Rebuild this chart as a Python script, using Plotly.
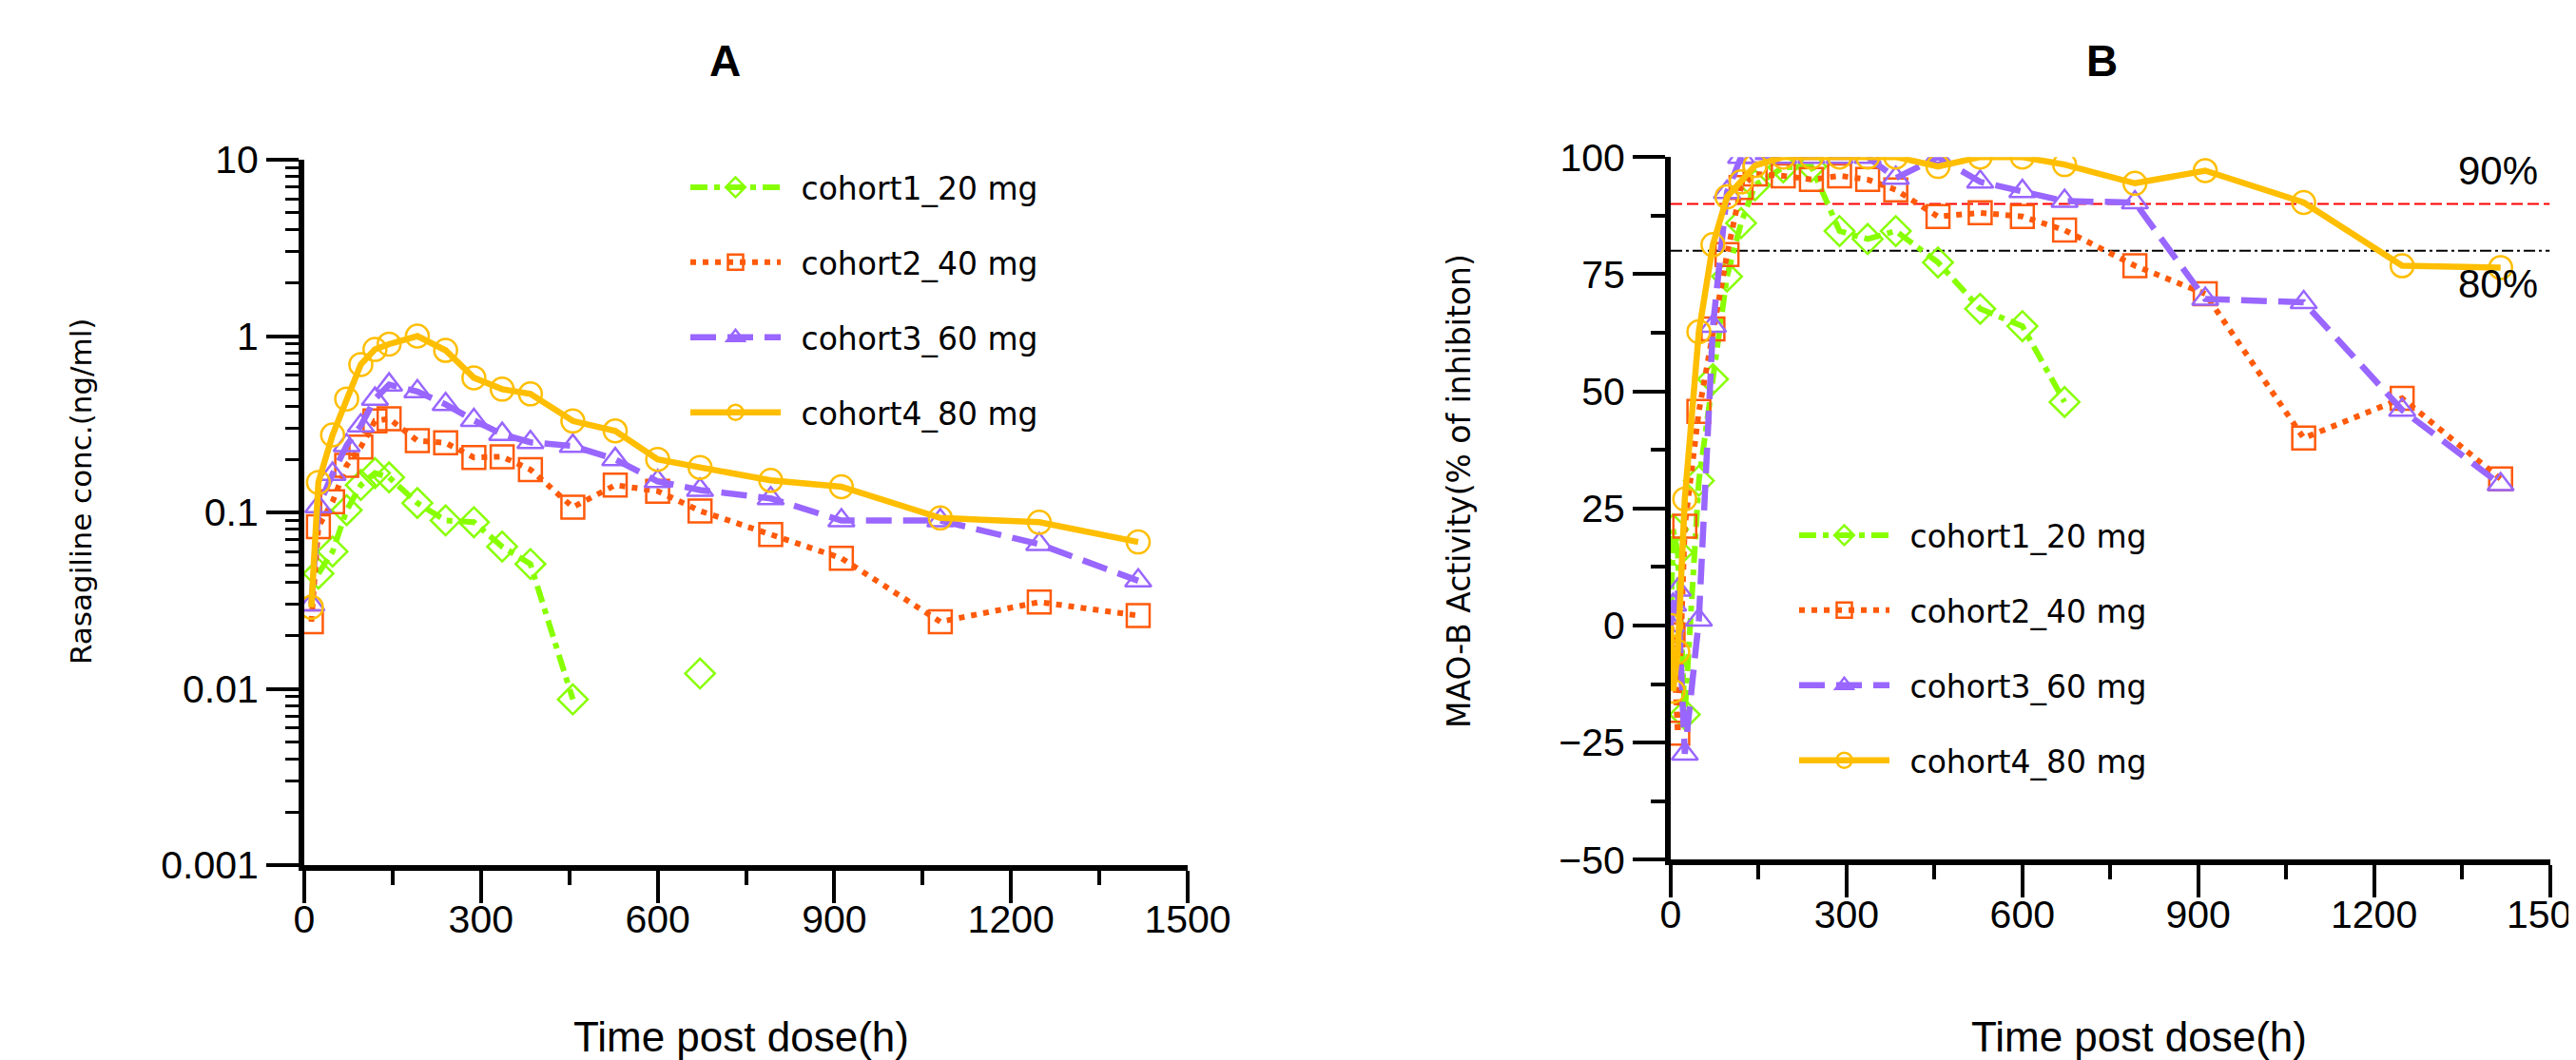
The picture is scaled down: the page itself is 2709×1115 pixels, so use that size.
import plotly.graph_objects as go

W, H = 2709, 1115
OFF = 8  # page body margin offset of the rendered figure

def px(x):
    return (x - OFF) / W

def py(y):
    return 1 - (y - OFF) / H

# ---------------- data ----------------
cohorts = ["cohort1_20 mg", "cohort2_40 mg", "cohort3_60 mg", "cohort4_80 mg"]

# Panel A: Rasagiline concentration (ng/ml)
times_pk = [12, 24, 48, 72, 96, 120, 144, 192, 240, 288, 336, 384, 456, 528,
            600, 672, 792, 912, 1080, 1248, 1416]
pk_c1 = [None, 0.045, 0.060, 0.103, 0.143, 0.167, 0.158, 0.113, 0.090, 0.088,
         0.064, 0.051, 0.0087, None, None, 0.0122, None, None, None, None, None]
pk_c2 = [0.024, 0.083, 0.115, 0.185, 0.235, 0.33, 0.34, 0.255, 0.248, 0.205,
         0.207, 0.175, 0.107, 0.143, 0.132, 0.102, 0.075, 0.055, 0.024, 0.031, 0.026]
pk_c3 = [0.030, 0.108, 0.165, 0.24, 0.31, 0.44, 0.53, 0.485, 0.41, 0.333,
         0.278, 0.25, 0.238, 0.20, 0.15, 0.134, 0.12, 0.09, 0.09, 0.066, 0.041]
pk_c4 = [0.029, 0.148, 0.275, 0.44, 0.69, 0.84, 0.90, 1.0, 0.83, 0.58,
         0.50, 0.47, 0.33, 0.29, 0.20, 0.18, 0.152, 0.14, 0.093, 0.088, 0.068]

# Panel B: MAO-B activity (% of inhibition)
times_pd = [0, 4, 12, 24, 48, 72, 96, 120, 144, 192, 240, 288, 336, 384, 456,
            528, 600, 672, 792, 912, 1080, 1248, 1416]
pd_c1 = [0, 20.5, 15.6, -19, 30.9, 52.6, 74.5, 85.9, 94, 97.8, 98, 84.2, 82.5,
         84.2, 77.5, 67.6, 63.9, 47.7, None, None, None, None, None]
pd_c2 = [0, -2, -23, 21.2, 45.7, 63.3, 79.2, 93.5, 96.4, 96, 95.2, 96, 95.2,
         93, 87.3, 88.1, 87.3, 84.4, 76.8, 70.8, 40, 48.5, 31.3]
pd_c3 = [0, 4.4, 7.6, -27.4, 1.2, 63.9, 92.5, 100, 100, 100, 100, 100, 100,
         95.5, 100, 94.7, 92.7, 90.6, 90.3, 69.7, 69, 46, 30.1]
pd_c4 = [0, -14, -5.6, 27, 62.7, 81.3, 91.5, 94.7, 98.2, 100, 100, 100, 100,
         100, 98, 100, 100, 98.4, 94.4, 97.1, 90.3, 76.8, 76.4]

ref_levels = [90, 80]
ref_labels = ["90%", "80%"]

x_ticks = [0, 300, 600, 900, 1200, 1500]
pk_ticks = [0.001, 0.01, 0.1, 1, 10]
pk_ticktext = ["0.001", "0.01", "0.1", "1", "10"]
pd_ticks = [-50, -25, 0, 25, 50, 75, 100]

# ---------------- styles ----------------
colors = ["#88FF00", "#FF5A0A", "#9966FF", "#FFBE00"]
symbols = ["diamond-open", "square-open", "triangle-up-open", "circle-open"]
dashes = ["18px,7px,6px,7px", "6px,7px", "27px,12px", "solid"]
widths = [6, 6, 6.5, 6.5]

fig = go.Figure()

pk_series = [pk_c1, pk_c2, pk_c3, pk_c4]
pd_series = [pd_c1, pd_c2, pd_c3, pd_c4]

for i in range(4):
    fig.add_trace(go.Scatter(
        x=times_pk, y=pk_series[i], name="\u2002" + cohorts[i], mode="lines+markers",
        xaxis="x", yaxis="y", legend="legend", legendgroup=f"a{i}",
        connectgaps=False,
        line=dict(color=colors[i], width=widths[i], dash=dashes[i]),
        marker=dict(symbol=symbols[i], size=24, color=colors[i],
                    line=dict(color=colors[i], width=2.5)),
    ))
for i in range(4):
    fig.add_trace(go.Scatter(
        x=times_pd, y=pd_series[i], name="\u2002" + cohorts[i], mode="lines+markers",
        xaxis="x2", yaxis="y2", legend="legend2", legendgroup=f"b{i}",
        connectgaps=False,
        line=dict(color=colors[i], width=widths[i], dash=dashes[i]),
        marker=dict(symbol=symbols[i], size=24, color=colors[i],
                    line=dict(color=colors[i], width=2.5)),
    ))

# reference lines
fig.add_shape(type="line", xref="x2", yref="y2", x0=0, x1=1500,
              y0=ref_levels[0], y1=ref_levels[0], layer="below",
              line=dict(color="#FF0000", width=2, dash="12px,5px"))
fig.add_shape(type="line", xref="x2", yref="y2", x0=0, x1=1500,
              y0=ref_levels[1], y1=ref_levels[1], layer="below",
              line=dict(color="#000000", width=2, dash="12px,4px,3px,4px"))

TICKFONT = dict(family="Liberation Sans, Arial", size=41, color="black")
axis_common = dict(showline=True, linewidth=6, linecolor="black", mirror=False,
                   ticks="outside", tickwidth=3.5, tickcolor="black",
                   showgrid=False, zeroline=False, tickfont=TICKFONT,
                   automargin=False)

xa_dom = [px(320), px(1249)]
xb_dom = [px(1757), px(2681.5)]
ya_dom = [py(910), py(168)]
yb_dom = [py(904.3), py(165.2)]

minor_log = [m * 10 ** e for e in range(-3, 1) for m in range(2, 10)]

fig.update_layout(
    width=W, height=H, margin=dict(l=0, r=0, t=0, b=0, autoexpand=False),
    paper_bgcolor="white", plot_bgcolor="white", showlegend=True,
    xaxis=dict(domain=xa_dom, range=[0, 1500], anchor="y", tickvals=x_ticks,
               ticklen=34, ticklabelstandoff=-18,
               minor=dict(dtick=150, ticks="outside", ticklen=15,
                          tickwidth=3.5, tickcolor="black"),
               **axis_common),
    yaxis=dict(domain=ya_dom, type="log", range=[-3, 1], anchor="x",
               tickvals=pk_ticks, ticktext=pk_ticktext, ticklen=34,
               minor=dict(tickmode="array", tickvals=minor_log, ticks="outside",
                          ticklen=14, tickwidth=3, tickcolor="black"),
               **axis_common),
    xaxis2=dict(domain=xb_dom, range=[0, 1500], anchor="y2", tickvals=x_ticks,
                ticklen=34, ticklabelstandoff=-18, ticklabeloverflow="allow",
                minor=dict(dtick=150, ticks="outside", ticklen=15,
                           tickwidth=3.5, tickcolor="black"),
                **axis_common),
    yaxis2=dict(domain=yb_dom, range=[-50, 100], anchor="x2", tickvals=pd_ticks,
                ticklen=34, minor=dict(dtick=12.5, ticks="outside", ticklen=15,
                                       tickwidth=3.5, tickcolor="black"),
                **axis_common),
    legend=dict(x=px(721), y=py(169), xanchor="left", yanchor="top",
                font=dict(family="DejaVu Sans", size=33, color="black"),
                bgcolor="rgba(0,0,0,0)", itemwidth=95, traceorder="grouped",
                tracegroupgap=33, itemsizing="trace"),
    legend2=dict(x=px(1887), y=py(535), xanchor="left", yanchor="top",
                 font=dict(family="DejaVu Sans", size=33, color="black"),
                 bgcolor="rgba(0,0,0,0)", itemwidth=95, traceorder="grouped",
                 tracegroupgap=33, itemsizing="trace"),
)

def note(text, x, y, size, family="Liberation Sans, Arial", angle=0):
    return dict(text=text, x=px(x), y=py(y), xref="paper", yref="paper",
                xanchor="center", yanchor="middle", textangle=angle,
                showarrow=False, font=dict(family=family, size=size, color="black"))

ann = [
    note("<b>A</b>", 762, 64, 46),
    note("<b>B</b>", 2210, 64, 46),
    note("Time post dose(h)", 779, 1090, 44),
    note("Time post dose(h)", 2249, 1090, 44),
    note("Rasagiline conc.(ng/ml)", 85, 517, 31, "DejaVu Sans", -90),
    note("MAO-B Activity(% of inhibiton)", 1534, 517, 33, "DejaVu Sans", -90),
    note(ref_labels[0], 2627, 180, 42),
    note(ref_labels[1], 2627, 299, 42),
]
fig.update_layout(annotations=ann)

fig.write_html("out.html")
